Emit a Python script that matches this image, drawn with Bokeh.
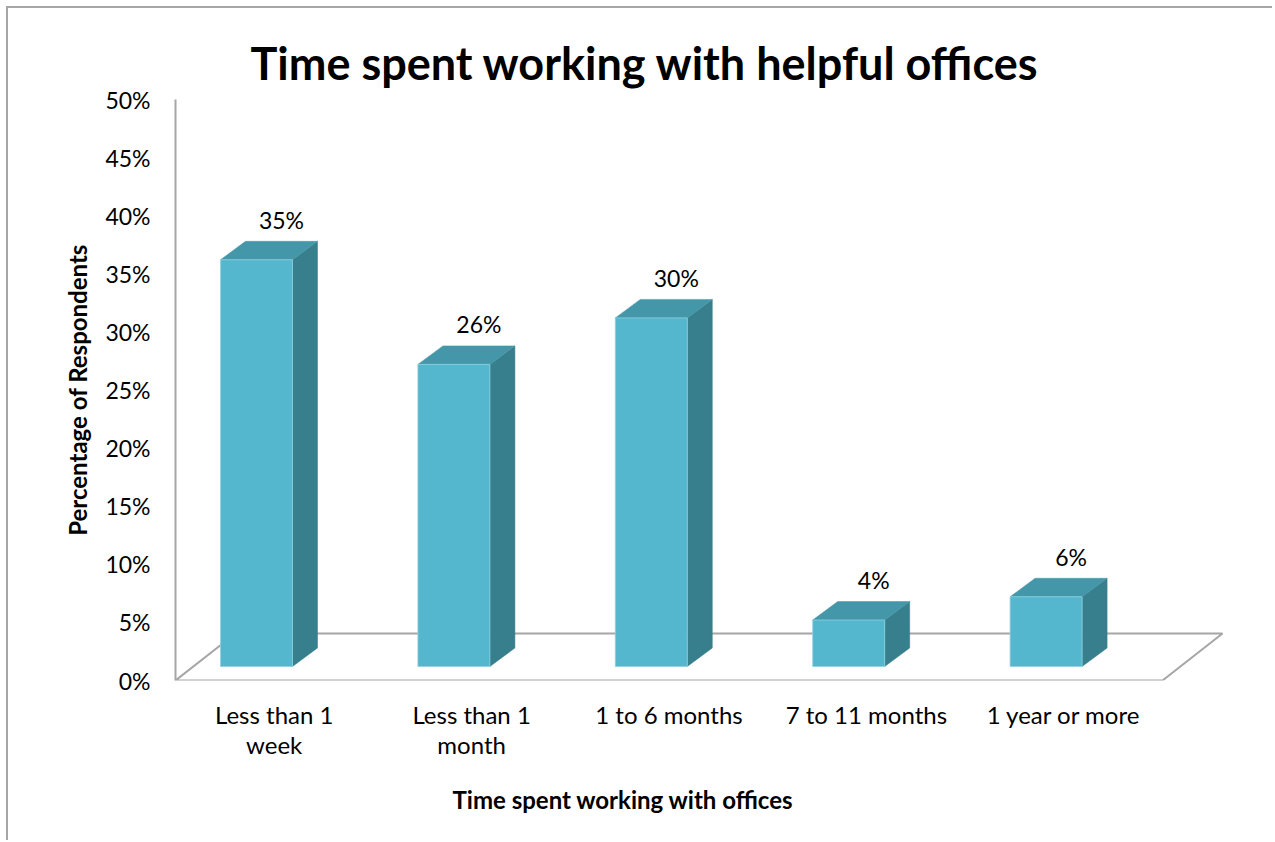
from bokeh.plotting import figure
from bokeh.models import FixedTicker, Range1d, ColumnDataSource, Title
from bokeh.embed import file_html
from bokeh.resources import INLINE

# ---- data ----
categories = ["Less than 1\nweek", "Less than 1\nmonth", "1 to 6 months", "7 to 11 months", "1 year or more"]
values = [35, 26, 30, 4, 6]
value_labels = ["35%", "26%", "30%", "4%", "6%"]
y_ticks = [0, 5, 10, 15, 20, 25, 30, 35, 40, 45, 50]
y_tick_labels = ["0%", "5%", "10%", "15%", "20%", "25%", "30%", "35%", "40%", "45%", "50%"]

# ---- geometry (in data units: x = category slots, y = percent) ----
PX_X = 197.4   # pixels per category slot
PX_Y = 11.62   # pixels per percent
floor_dx = 60 / PX_X
floor_dy = 47 / PX_Y
bar_shift = -17.7 / PX_X      # front face centre vs category centre
bar_half = 36 / PX_X
bar_base = 14 / PX_Y
depth_dx = 25 / PX_X
depth_dy = 18.5 / PX_Y

FONT = "Lato"
FRONT = "#55b7cd"
TOP = "#4497a8"
SIDE = "#377f8c"
GRAY = "#a6a6a6"

n = len(categories)
xs = list(range(n))

p = figure(width=1266, height=834, output_backend="svg", toolbar_location=None,
           x_range=Range1d(-0.5, -0.5 + 1065 / PX_X), y_range=Range1d(0, 50),
           min_border_left=167, min_border_right=34, min_border_top=91, min_border_bottom=162)
p.styles = {"margin-left": "6px", "margin-top": "6px",
            "border-left": "2px solid #a6a6a6", "border-top": "2px solid #a6a6a6"}
p.outline_line_color = None
p.xgrid.visible = False
p.ygrid.visible = False
p.background_fill_color = "white"
p.border_fill_color = "white"

# title
p.title.text = "Time spent working with helpful offices"
p.title.text_font = FONT
p.title.text_font_size = "45px"
p.title.text_font_style = "bold"
p.title.text_color = "black"
p.title.align = "left"
p.title.offset = 75
p.title.standoff = 20

# y axis
p.yaxis.ticker = FixedTicker(ticks=y_ticks)
p.yaxis.major_label_overrides = {t: l for t, l in zip(y_ticks, y_tick_labels)}
p.yaxis.axis_line_color = GRAY
p.yaxis.axis_line_width = 2
p.yaxis.major_tick_line_color = None
p.yaxis.minor_tick_line_color = None
p.yaxis.major_tick_out = 0
p.yaxis.major_label_standoff = 25
p.yaxis.major_label_text_font = FONT
p.yaxis.major_label_text_font_size = "23px"
p.yaxis.major_label_text_color = "black"
p.yaxis.axis_label = "Percentage of Respondents"
p.yaxis.axis_label_text_font = FONT
p.yaxis.axis_label_text_font_size = "24px"
p.yaxis.axis_label_text_font_style = "bold"
p.yaxis.axis_label_text_color = "black"
p.yaxis.axis_label_standoff = 10

# x axis
p.xaxis.ticker = FixedTicker(ticks=xs)
p.xaxis.major_label_overrides = {i: c for i, c in zip(xs, categories)}
p.xaxis.axis_line_color = None
p.xaxis.major_tick_line_color = None
p.xaxis.minor_tick_line_color = None
p.xaxis.major_tick_out = 0
p.xaxis.major_label_standoff = 19
p.xaxis.major_label_text_font = FONT
p.xaxis.major_label_text_font_size = "24px"
p.xaxis.major_label_text_color = "black"
p.xaxis.major_label_text_line_height = 1.05

# x axis title, placed in the panel below the axis
p.add_layout(Title(text="Time spent working with offices", align="left", offset=277,
                   text_font=FONT, text_font_size="24px", text_font_style="bold",
                   text_color="black", standoff=42), "below")

# floor
x0 = -0.5
x1 = n - 0.5
p.line([x0, x0 + floor_dx, x1 + floor_dx, x1, x0], [0, floor_dy, floor_dy, 0, 0],
       line_color=GRAY, line_width=2)

# bars
front_xs, front_ys, side_xs, side_ys, top_xs, top_ys = [], [], [], [], [], []
lab_x, lab_y = [], []
for i, v in zip(xs, values):
    xl = i + bar_shift - bar_half
    xr = i + bar_shift + bar_half
    yb = bar_base
    yt = bar_base + v
    front_xs.append([xl, xr, xr, xl])
    front_ys.append([yb, yb, yt, yt])
    side_xs.append([xr, xr + depth_dx, xr + depth_dx, xr])
    side_ys.append([yb, yb + depth_dy, yt + depth_dy, yt])
    top_xs.append([xl, xr, xr + depth_dx, xl + depth_dx])
    top_ys.append([yt, yt, yt + depth_dy, yt + depth_dy])
    lab_x.append(i + bar_shift + 25 / PX_X)
    lab_y.append(yt + 40 / PX_Y)

p.patches(side_xs, side_ys, fill_color=SIDE, line_color=SIDE, line_width=0.5)
p.patches(top_xs, top_ys, fill_color=TOP, line_color=TOP, line_width=0.5)
p.patches(front_xs, front_ys, fill_color=FRONT, line_color="#8fd0e0", line_width=0.8)

src = ColumnDataSource(dict(x=lab_x, y=lab_y, t=value_labels))
p.text(x="x", y="y", text="t", source=src, text_align="center", text_baseline="middle",
       text_font={"value": FONT}, text_font_size={"value": "23px"}, text_color="black")

open("out.html", "w").write(file_html(p, INLINE))
